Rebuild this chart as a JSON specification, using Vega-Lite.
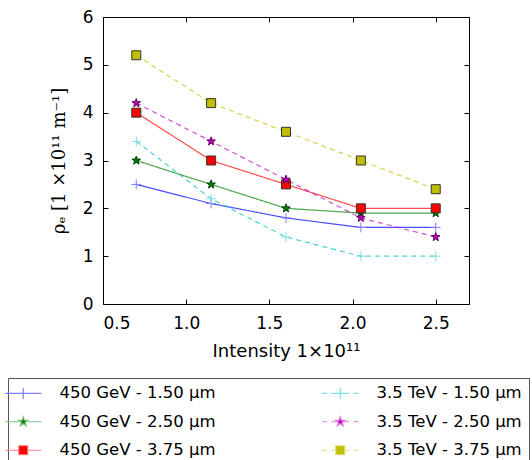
{
  "$schema": "https://vega.github.io/schema/vega-lite/v6.json",
  "width": 366,
  "height": 287,
  "autosize": "none",
  "padding": {"left": 103, "top": 17, "right": 63, "bottom": 156},
  "background": "white",
  "data": {
    "values": [
      {"series": "450 GeV - 1.50 μm", "energy": "450 GeV", "x": 0.7, "y": 2.5},
      {"series": "450 GeV - 1.50 μm", "energy": "450 GeV", "x": 1.15, "y": 2.1},
      {"series": "450 GeV - 1.50 μm", "energy": "450 GeV", "x": 1.6, "y": 1.8},
      {"series": "450 GeV - 1.50 μm", "energy": "450 GeV", "x": 2.05, "y": 1.6},
      {"series": "450 GeV - 1.50 μm", "energy": "450 GeV", "x": 2.5, "y": 1.6},
      {"series": "450 GeV - 2.50 μm", "energy": "450 GeV", "x": 0.7, "y": 3.0},
      {"series": "450 GeV - 2.50 μm", "energy": "450 GeV", "x": 1.15, "y": 2.5},
      {"series": "450 GeV - 2.50 μm", "energy": "450 GeV", "x": 1.6, "y": 2.0},
      {"series": "450 GeV - 2.50 μm", "energy": "450 GeV", "x": 2.05, "y": 1.9},
      {"series": "450 GeV - 2.50 μm", "energy": "450 GeV", "x": 2.5, "y": 1.9},
      {"series": "450 GeV - 3.75 μm", "energy": "450 GeV", "x": 0.7, "y": 4.0},
      {"series": "450 GeV - 3.75 μm", "energy": "450 GeV", "x": 1.15, "y": 3.0},
      {"series": "450 GeV - 3.75 μm", "energy": "450 GeV", "x": 1.6, "y": 2.5},
      {"series": "450 GeV - 3.75 μm", "energy": "450 GeV", "x": 2.05, "y": 2.0},
      {"series": "450 GeV - 3.75 μm", "energy": "450 GeV", "x": 2.5, "y": 2.0},
      {"series": "3.5 TeV - 1.50 μm", "energy": "3.5 TeV", "x": 0.7, "y": 3.4},
      {"series": "3.5 TeV - 1.50 μm", "energy": "3.5 TeV", "x": 1.15, "y": 2.2},
      {"series": "3.5 TeV - 1.50 μm", "energy": "3.5 TeV", "x": 1.6, "y": 1.4},
      {"series": "3.5 TeV - 1.50 μm", "energy": "3.5 TeV", "x": 2.05, "y": 1.0},
      {"series": "3.5 TeV - 1.50 μm", "energy": "3.5 TeV", "x": 2.5, "y": 1.0},
      {"series": "3.5 TeV - 2.50 μm", "energy": "3.5 TeV", "x": 0.7, "y": 4.2},
      {"series": "3.5 TeV - 2.50 μm", "energy": "3.5 TeV", "x": 1.15, "y": 3.4},
      {"series": "3.5 TeV - 2.50 μm", "energy": "3.5 TeV", "x": 1.6, "y": 2.6},
      {"series": "3.5 TeV - 2.50 μm", "energy": "3.5 TeV", "x": 2.05, "y": 1.8},
      {"series": "3.5 TeV - 2.50 μm", "energy": "3.5 TeV", "x": 2.5, "y": 1.4},
      {"series": "3.5 TeV - 3.75 μm", "energy": "3.5 TeV", "x": 0.7, "y": 5.2},
      {"series": "3.5 TeV - 3.75 μm", "energy": "3.5 TeV", "x": 1.15, "y": 4.2},
      {"series": "3.5 TeV - 3.75 μm", "energy": "3.5 TeV", "x": 1.6, "y": 3.6},
      {"series": "3.5 TeV - 3.75 μm", "energy": "3.5 TeV", "x": 2.05, "y": 3.0},
      {"series": "3.5 TeV - 3.75 μm", "energy": "3.5 TeV", "x": 2.5, "y": 2.4}
    ]
  },
  "layer": [
    {
      "mark": {"type": "line", "strokeWidth": 1.2, "opacity": 0.7},
      "encoding": {
        "x": {
          "field": "x", "type": "quantitative",
          "scale": {"domain": [0.5, 2.7], "nice": false, "zero": false},
          "axis": {"values": [0.5, 1.0, 1.5, 2.0, 2.5], "format": ".1f", "tickSize": -5, "labelPadding": 16, "title": "Intensity 1×10¹¹", "titlePadding": 11}
        },
        "y": {
          "field": "y", "type": "quantitative",
          "scale": {"domain": [0, 6], "nice": false},
          "axis": {"values": [0, 1, 2, 3, 4, 5, 6], "format": "d", "tickSize": -5, "labelPadding": 15, "title": "ρₑ [1 ×10¹¹ m⁻¹]", "titleFont": "DejaVu Serif", "titlePadding": 14}
        },
        "color": {
          "field": "series", "type": "nominal",
          "scale": {
            "domain": ["450 GeV - 1.50 μm", "450 GeV - 2.50 μm", "450 GeV - 3.75 μm", "3.5 TeV - 1.50 μm", "3.5 TeV - 2.50 μm", "3.5 TeV - 3.75 μm"],
            "range": ["#0000ff", "#008000", "#ff0000", "#00bfbf", "#bf00bf", "#bfbf00"]
          },
          "legend": null
        },
        "strokeDash": {
          "field": "energy", "type": "nominal",
          "scale": {"domain": ["450 GeV", "3.5 TeV"], "range": [[1, 0], [5, 4]]},
          "legend": null
        }
      }
    },
    {
      "mark": {"type": "point", "filled": true, "size": 81, "strokeWidth": 1, "opacity": 1},
      "encoding": {
        "x": {
          "field": "x", "type": "quantitative",
          "scale": {"domain": [0.5, 2.7], "nice": false, "zero": false},
          "axis": {"orient": "top", "values": [0.5, 1.0, 1.5, 2.0, 2.5], "labels": false, "title": null, "tickSize": -5}
        },
        "y": {
          "field": "y", "type": "quantitative",
          "scale": {"domain": [0, 6], "nice": false},
          "axis": {"orient": "right", "values": [0, 1, 2, 3, 4, 5, 6], "labels": false, "title": null, "tickSize": -5}
        },
        "shape": {
          "field": "series", "type": "nominal",
          "scale": {
            "domain": ["450 GeV - 1.50 μm", "450 GeV - 2.50 μm", "450 GeV - 3.75 μm", "3.5 TeV - 1.50 μm", "3.5 TeV - 2.50 μm", "3.5 TeV - 3.75 μm"],
            "range": [
              "M-1.1,0H1.1M0,-1.1V1.1",
              "M0,-1L0.235,-0.324L0.951,-0.309L0.38,0.124L0.588,0.809L0,0.4L-0.588,0.809L-0.38,0.124L-0.951,-0.309L-0.235,-0.324Z",
              "M-1,-1H1V1H-1Z",
              "M-1.1,0H1.1M0,-1.1V1.1",
              "M0,-1L0.235,-0.324L0.951,-0.309L0.38,0.124L0.588,0.809L0,0.4L-0.588,0.809L-0.38,0.124L-0.951,-0.309L-0.235,-0.324Z",
              "M-1,-1H1V1H-1Z"
            ]
          },
          "legend": null
        },
        "fill": {
          "field": "series", "type": "nominal",
          "scale": {
            "domain": ["450 GeV - 1.50 μm", "450 GeV - 2.50 μm", "450 GeV - 3.75 μm", "3.5 TeV - 1.50 μm", "3.5 TeV - 2.50 μm", "3.5 TeV - 3.75 μm"],
            "range": ["#0000ff", "#008000", "#ff0000", "#00bfbf", "#bf00bf", "#bfbf00"]
          },
          "legend": null
        },
        "stroke": {
          "field": "series", "type": "nominal",
          "scale": {
            "domain": ["450 GeV - 1.50 μm", "450 GeV - 2.50 μm", "450 GeV - 3.75 μm", "3.5 TeV - 1.50 μm", "3.5 TeV - 2.50 μm", "3.5 TeV - 3.75 μm"],
            "range": ["#7f7fff", "#004000", "#333333", "#7fdfdf", "#600060", "#333333"]
          },
          "legend": null
        }
      }
    },
    {
      "transform": [{"filter": "datum.y > 100"}],
      "mark": {"type": "point", "filled": true, "size": 100, "strokeWidth": 1.2, "opacity": 1},
      "encoding": {
        "shape": {
          "field": "series", "type": "nominal",
          "scale": {
            "domain": ["450 GeV - 1.50 μm", "450 GeV - 2.50 μm", "450 GeV - 3.75 μm", "3.5 TeV - 1.50 μm", "3.5 TeV - 2.50 μm", "3.5 TeV - 3.75 μm"],
            "range": [
              "M-3.6,0H3.6M0,-1.1V1.1",
              "M-3.6,0H-0.9M0.9,0H3.6M0,-1L0.235,-0.324L0.951,-0.309L0.38,0.124L0.588,0.809L0,0.4L-0.588,0.809L-0.38,0.124L-0.951,-0.309L-0.235,-0.324Z",
              "M-3.6,0H-0.9M0.9,0H3.6M-0.9,-0.9H0.9V0.9H-0.9Z",
              "M-3.6,0H-2.6M-1.8,0H-0.8M0.8,0H1.8M2.6,0H3.6M-1.1,0H1.1M0,-1.1V1.1",
              "M-3.6,0H-2.6M-1.8,0H-0.8M0.8,0H1.8M2.6,0H3.6M0,-1L0.235,-0.324L0.951,-0.309L0.38,0.124L0.588,0.809L0,0.4L-0.588,0.809L-0.38,0.124L-0.951,-0.309L-0.235,-0.324Z",
              "M-3.6,0H-2.6M-1.8,0H-0.8M0.8,0H1.8M2.6,0H3.6M-0.9,-0.9H0.9V0.9H-0.9Z"
            ]
          },
          "legend": {
            "title": null,
            "orient": "none",
            "legendX": -95,
            "legendY": 361,
            "columns": 2,
            "columnPadding": 103,
            "rowPadding": 11.5,
            "padding": 7,
            "labelOffset": 28,
            "labelFontSize": 16.5,
            "labelFont": "DejaVu Sans",
            "labelColor": "#000",
            "labelLimit": 300,
            "symbolSize": 100,
            "symbolStrokeWidth": 1.2,
            "strokeColor": "#555555"
          }
        },
        "fill": {
          "field": "series", "type": "nominal",
          "scale": {
            "domain": ["450 GeV - 1.50 μm", "450 GeV - 2.50 μm", "450 GeV - 3.75 μm", "3.5 TeV - 1.50 μm", "3.5 TeV - 2.50 μm", "3.5 TeV - 3.75 μm"],
            "range": ["#0000ff", "#008000", "#ff0000", "#00bfbf", "#bf00bf", "#bfbf00"]
          }
        },
        "stroke": {
          "field": "series", "type": "nominal",
          "scale": {
            "domain": ["450 GeV - 1.50 μm", "450 GeV - 2.50 μm", "450 GeV - 3.75 μm", "3.5 TeV - 1.50 μm", "3.5 TeV - 2.50 μm", "3.5 TeV - 3.75 μm"],
            "range": ["#7f7fff", "#7fbf7f", "#ff7f7f", "#7fdfdf", "#df7fdf", "#dfdf7f"]
          }
        }
      }
    }
  ],
  "resolve": {
    "scale": {"shape": "independent", "fill": "independent", "stroke": "independent"},
    "axis": {"x": "independent", "y": "independent"}
  },
  "config": {
    "view": {"stroke": "#000000", "strokeWidth": 1},
    "axis": {
      "grid": false, "domain": false, "tickColor": "#000", "labelColor": "#000", "titleColor": "#000",
      "labelFont": "DejaVu Sans", "titleFont": "DejaVu Sans", "labelFontSize": 17, "titleFontSize": 18, "titleFontWeight": "normal"
    }
  }
}
